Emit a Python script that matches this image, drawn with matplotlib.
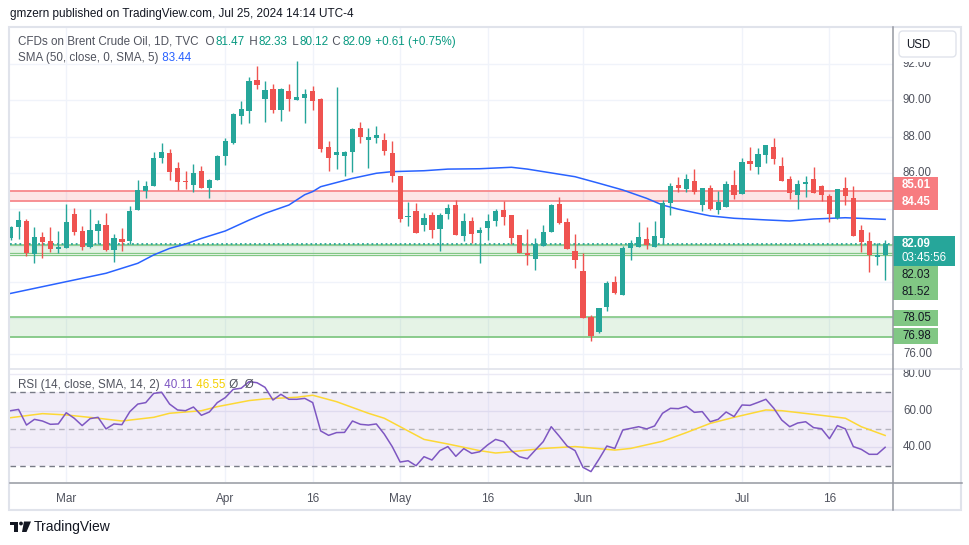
import numpy as np
import pandas as pd
import matplotlib
matplotlib.use("Agg")
import matplotlib.pyplot as plt
from matplotlib.patches import Rectangle, FancyBboxPatch, Polygon, Circle

plt.rcParams['font.family'] = ['Liberation Sans', 'DejaVu Sans']

# ---------------- data ----------------
dates = pd.bdate_range('2024-02-21', '2024-07-25')
dates = dates[dates != pd.Timestamp('2024-03-29')]

opens = [82.43, 83.04, 83.37, 81.55, 82.47, 82.25, 81.79, 81.88, 83.74, 82.80,
         81.94, 82.82, 83.13, 81.75, 82.36, 82.25, 83.96, 85.02, 85.30, 86.82,
         87.08, 86.27, 85.55, 85.33, 86.10, 85.19, 85.61, 86.95, 87.63, 89.15,
         89.43, 91.12, 90.09, 90.62, 89.48, 90.51, 90.03, 90.14, 90.51, 90.09,
         87.43, 87.00, 86.95, 87.17, 88.47, 87.83, 87.94, 87.81, 87.10, 85.83,
         83.59, 83.90, 83.13, 83.68, 82.93, 83.75, 84.23, 82.54, 83.35, 82.71,
         82.98, 83.37, 83.96, 83.68, 82.58, 81.61, 81.27, 81.99, 82.76, 84.29,
         83.29, 81.70, 80.59, 78.06, 77.25, 78.63, 79.97, 79.29, 81.88, 81.94,
         82.36, 81.94, 82.43, 84.36, 85.33, 85.13, 85.55, 84.23, 85.17, 83.97,
         84.14, 85.33, 84.86, 86.66, 86.34, 87.00, 87.43, 86.38, 85.66, 84.80,
         85.41, 85.66, 85.28, 84.73, 83.53, 85.17, 84.62, 82.85, 82.25, 81.38,
         81.47]
highs = [83.10, 83.92, 83.46, 83.02, 82.76, 83.00, 82.80, 84.29, 84.08, 83.06,
         84.01, 83.42, 83.79, 82.62, 82.95, 84.18, 85.61, 85.57, 87.13, 87.65,
         87.32, 86.60, 86.10, 86.49, 86.40, 85.66, 86.99, 87.92, 89.30, 89.96,
         91.28, 91.89, 91.06, 90.90, 90.70, 90.90, 92.17, 90.62, 90.79, 90.15,
         87.76, 90.73, 87.21, 88.49, 88.80, 88.49, 88.60, 88.20, 87.76, 85.83,
         84.41, 84.36, 83.79, 83.86, 83.79, 84.29, 84.51, 83.79, 83.57, 83.02,
         83.74, 84.01, 84.45, 83.68, 82.58, 82.93, 82.41, 83.13, 84.29, 84.67,
         83.52, 82.63, 81.57, 78.17, 78.54, 80.03, 80.34, 81.99, 82.32, 83.29,
         83.02, 83.35, 84.49, 85.44, 85.77, 85.94, 86.21, 85.19, 85.33, 85.00,
         85.55, 86.16, 86.82, 87.43, 87.37, 87.54, 87.92, 86.88, 85.83, 85.61,
         85.83, 86.33, 85.33, 84.84, 85.11, 85.77, 85.28, 83.15, 82.74, 82.16,
         82.33]
lows = [82.30, 82.38, 81.44, 81.05, 81.29, 81.62, 81.57, 81.84, 82.58, 81.75,
        81.88, 82.08, 81.72, 81.11, 81.70, 82.06, 83.96, 84.64, 85.30, 86.53,
        85.61, 85.06, 85.11, 84.97, 85.19, 84.64, 85.61, 86.44, 87.59, 88.69,
        88.77, 90.64, 88.82, 89.32, 88.88, 89.43, 90.03, 88.77, 89.48, 87.17,
        86.12, 86.23, 85.85, 86.07, 87.67, 86.29, 87.67, 86.99, 85.52, 83.31,
        83.07, 82.71, 82.82, 82.43, 81.72, 83.48, 82.58, 82.27, 82.16, 81.05,
        82.32, 83.09, 83.13, 82.10, 81.61, 80.94, 80.67, 81.99, 82.76, 83.18,
        81.83, 80.78, 78.02, 76.76, 77.20, 78.41, 79.35, 79.29, 81.22, 81.94,
        81.83, 81.94, 82.16, 83.70, 84.97, 84.97, 84.84, 83.92, 83.97, 83.75,
        84.14, 84.58, 84.86, 86.16, 85.96, 86.56, 86.51, 85.57, 84.58, 84.03,
        84.69, 84.91, 84.47, 83.31, 83.48, 84.25, 82.54, 81.66, 80.56, 80.94,
        80.12]
closes = [83.04, 83.41, 81.57, 82.47, 82.21, 81.79, 81.92, 83.31, 82.76, 81.94,
          82.85, 83.17, 81.75, 82.41, 82.21, 83.90, 85.06, 85.28, 86.82, 87.13,
          86.07, 85.52, 85.50, 85.99, 85.19, 85.61, 86.93, 87.76, 89.25, 89.52,
          91.06, 90.86, 90.57, 89.48, 90.62, 90.09, 90.18, 90.35, 89.98, 87.34,
          86.84, 87.15, 87.15, 88.42, 88.00, 87.98, 88.09, 87.22, 85.85, 83.48,
          83.63, 82.71, 83.52, 82.87, 83.68, 84.07, 82.58, 83.35, 82.63, 82.85,
          83.35, 83.90, 83.59, 82.43, 81.61, 81.46, 82.08, 82.74, 84.23, 83.26,
          81.83, 81.22, 78.02, 77.03, 78.54, 79.92, 79.40, 81.88, 82.16, 82.47,
          82.05, 82.52, 84.34, 85.28, 85.19, 85.66, 84.95, 85.15, 84.03, 84.41,
          85.39, 84.80, 86.60, 86.49, 87.04, 87.54, 86.78, 85.57, 84.91, 85.39,
          85.50, 84.91, 84.80, 83.75, 85.11, 84.75, 82.54, 82.21, 81.49, 81.48,
          82.09]

sma_idx = [0, 4, 8, 12, 16, 18, 20, 22, 24, 27, 30, 32, 35, 37, 38, 39, 43, 46, 48,
           52, 55, 59, 63, 65, 67, 71, 74, 77, 80, 82, 84, 88, 91, 95, 98, 101, 105, 110]
sma_val = [79.36, 79.73, 80.10, 80.47, 81.02, 81.48, 81.84, 82.08, 82.39, 82.80,
           83.40, 83.77, 84.23, 84.80, 84.97, 85.24, 85.70, 85.98, 86.07, 86.12,
           86.21, 86.23, 86.31, 86.21, 86.07, 85.79, 85.43, 85.06, 84.60, 84.23,
           84.00, 83.63, 83.50, 83.41, 83.35, 83.46, 83.53, 83.44]

rsi = [60.0, 60.7, 52.2, 55.3, 54.4, 52.6, 52.8, 58.9, 55.9, 51.9,
       55.7, 56.4, 50.1, 52.8, 52.4, 59.5, 63.6, 64.4, 69.4, 70.0,
       63.6, 60.4, 60.0, 62.0, 57.5, 59.3, 64.4, 67.1, 71.6, 72.2,
       75.8, 75.2, 72.7, 65.8, 68.9, 66.2, 66.2, 66.7, 64.4, 49.0,
       46.6, 48.1, 48.2, 54.4, 52.6, 52.2, 52.8, 47.3, 40.5, 32.1,
       32.8, 30.1, 35.0, 33.2, 38.3, 40.5, 35.2, 39.4, 36.8, 37.7,
       41.4, 44.4, 43.2, 38.3, 35.0, 33.9, 38.6, 43.2, 51.3, 46.2,
       40.8, 38.3, 29.2, 26.9, 33.6, 40.8, 39.5, 49.5, 50.4, 51.3,
       50.1, 51.7, 58.6, 61.3, 61.1, 62.4, 59.1, 59.5, 54.0, 55.3,
       59.3, 56.8, 63.1, 62.9, 64.5, 66.2, 61.3, 54.9, 51.3, 53.3,
       54.0, 50.8, 50.2, 44.8, 51.9, 50.1, 40.5, 39.0, 36.3, 36.3,
       40.11]
rsima_idx = [0, 4, 7, 11, 14, 18, 20, 24, 26, 30, 32, 36, 38, 41, 45, 47, 49, 52,
             55, 59, 61, 63, 67, 71, 76, 78, 82, 85, 88, 91, 95, 97, 101, 105, 107, 110]
rsima_val = [56.2, 58.4, 57.7, 55.9, 54.4, 56.4, 58.6, 60.0, 62.2, 65.5, 66.4, 67.3,
             68.4, 64.9, 58.6, 55.9, 51.3, 44.4, 41.9, 38.3, 37.0, 37.7, 39.5, 40.5,
             38.6, 39.5, 43.4, 48.1, 53.1, 56.4, 60.4, 60.0, 58.0, 55.9, 51.3, 46.55]

zone_red = (84.45, 85.01)
zone_green_hi = (81.52, 82.03)
zone_green_lo = (76.98, 78.05)
last_price = closes[-1]
countdown = "03:45:56"

tick_dates = ['2024-03-01', '2024-04-01', '2024-04-16', '2024-05-01',
              '2024-05-16', '2024-06-03', '2024-07-01', '2024-07-16']
tick_labels = ['Mar', 'Apr', '16', 'May', '16', 'Jun', 'Jul', '16']
price_ticks = [76, 78, 80, 82, 84, 86, 88, 90, 92]
rsi_ticks = [40, 60, 80]

# ---------------- styles ----------------
UP, DOWN = '#26a69a', '#ef5350'
GRID = '#f0f3fa'
TXT = '#131722'
GRAY = '#50535e'
W, H = 970, 545

fig = plt.figure(figsize=(W / 100, H / 100), dpi=100)
fig.patch.set_facecolor('white')


def rect(x0, y0, x1, y1):
    return [x0 / W, 1 - y1 / H, (x1 - x0) / W, (y1 - y0) / H]


ax_p = fig.add_axes(rect(10, 27, 893, 368))
ax_r = fig.add_axes(rect(10, 369, 893, 482))
ax_ra = fig.add_axes(rect(893, 369, 962, 482))
over = fig.add_axes([0, 0, 1, 1], zorder=10)
over.set_xlim(0, W)
over.set_ylim(H, 0)
over.axis('off')
over.patch.set_visible(False)

n = len(dates)
assert n == len(opens)
x = np.arange(n)
xl = (-0.075, 110.99)

tick_idx = [int(np.where(dates == pd.Timestamp(d))[0][0]) for d in tick_dates]

for ax in (ax_p, ax_r, ax_ra):
    for s in ax.spines.values():
        s.set_visible(False)
    ax.set_xticks([])
    ax.set_yticks([])

# ---------------- price pane ----------------
ax_p.set_xlim(*xl)
ax_p.set_ylim(75.25, 94.04)
for p in price_ticks:
    ax_p.axhline(p, color=GRID, lw=1, zorder=0)
for t in tick_idx:
    ax_p.axvline(t, color=GRID, lw=1, zorder=0)

ax_p.axhspan(*zone_red, color='#f23645', alpha=0.13, lw=0, zorder=1)
for v in zone_red:
    ax_p.axhline(v, color='#f7888c', lw=1.3, zorder=1.5)
for z in (zone_green_hi, zone_green_lo):
    ax_p.axhspan(*z, color='#4caf50', alpha=0.14, lw=0, zorder=1)
    ax_p.axhline(z[1], color='#81c784', lw=1.2, zorder=1.5)
ax_p.axhline(zone_green_lo[0], color='#81c784', lw=1.3, zorder=1.5)
ax_p.axhline(zone_green_hi[0] + 0.055, color='#81c784', lw=0.9, zorder=1.5)
ax_p.axhline(zone_green_hi[0] - 0.06, color='#81c784', lw=0.9, zorder=1.5)
ax_p.axhline(last_price, color=UP, lw=1.3, ls=(0, (1, 1.6)), zorder=2)

ax_p.plot(sma_idx, sma_val, color='#2962ff', lw=1.1, zorder=3)

o = np.array(opens); c = np.array(closes)
cols = [UP if cc >= oo else DOWN for oo, cc in zip(o, c)]
ax_p.vlines(x, lows, highs, colors=cols, lw=1.0, zorder=4)
bot = np.minimum(o, c)
hgt = np.maximum(np.abs(c - o), 0.06)
ax_p.bar(x, hgt, bottom=bot, width=0.66, color=cols, lw=0, zorder=5)

# ---------------- RSI pane ----------------
ax_r.set_xlim(*xl)
ax_r.set_ylim(21.25, 82.66)
for t in tick_idx:
    ax_r.axvline(t, color=GRID, lw=1, zorder=0)
for r in rsi_ticks:
    ax_r.axhline(r, color='#ebeaf5', lw=1, zorder=0)
ax_r.axhspan(30, 70, color='#7e57c2', alpha=0.1, lw=0, zorder=1)
ax_r.axhline(70, color='#787b86', lw=1, ls=(0, (4, 3)), zorder=2)
ax_r.axhline(30, color='#787b86', lw=1, ls=(0, (4, 3)), zorder=2)
ax_r.axhline(50, color='#787b86', lw=1, ls=(0, (4, 3)), alpha=0.5, zorder=2)
ax_r.plot(rsima_idx, rsima_val, color='#fdd835', lw=1.1, zorder=3)
ax_r.plot(x, rsi, color='#7e57c2', lw=1.1, zorder=4)
ax_r.set_xticks(tick_idx)
ax_r.set_xticklabels(tick_labels, fontsize=8.5, color=GRAY)
ax_r.tick_params(axis='x', length=0, pad=8)

# RSI axis labels
ax_ra.set_xlim(0, 69)
ax_ra.set_ylim(21.25, 82.66)
for r in rsi_ticks:
    ax_ra.text(10, r, f"{r:.2f}", fontsize=8.3, color=GRAY, va='center', ha='left', clip_on=True)


# ---------------- price axis labels (pixel overlay) ----------------
def py(p):
    return H - ax_p.transData.transform((0, p))[1]


lab_h = 16.6
axis_labels = [
    (zone_red[1], -6.0, '#f77c80', 'white', 'bold'),
    (zone_red[0], 0.7, '#f77c80', 'white', 'bold'),
    (zone_green_hi[1], 29.6, '#81c784', TXT, 'normal'),
    (zone_green_hi[0], 37.3, '#81c784', TXT, 'normal'),
    (zone_green_lo[1], 0.8, '#81c784', TXT, 'normal'),
    (zone_green_lo[0], -0.6, '#81c784', TXT, 'normal'),
]
yl = py(last_price)
boxes = [(py(v) + off - lab_h / 2, py(v) + off + lab_h / 2) for v, off, *_ in axis_labels]
boxes.append((yl - 8.3, yl + 22.4))

for p in price_ticks:
    yp = py(p)
    if any(b0 - 3 < yp < b1 + 3 for b0, b1 in boxes):
        continue
    over.text(903, yp, f"{p:.2f}", fontsize=8.3, color=GRAY, va='center', ha='left', zorder=1)

# covering area for USD box
over.add_patch(Rectangle((894, 27), 67, 34.5, facecolor='white', edgecolor='none', zorder=2))
over.add_patch(FancyBboxPatch((899, 31), 57, 26, boxstyle='round,pad=0,rounding_size=4',
                              facecolor='white', edgecolor='#e0e3eb', lw=1, zorder=3))
over.text(906, 44.5, 'USD', fontsize=8.3, color=TXT, va='center', ha='left', zorder=4)

for val, off, bg, fg, wt in axis_labels:
    yc = py(val) + off
    over.add_patch(Rectangle((893, yc - lab_h / 2), 45, lab_h, facecolor=bg, edgecolor='none', zorder=5))
    over.text(902, yc, f"{val:.2f}", fontsize=8.3, color=fg, fontweight=wt,
              va='center', ha='left', zorder=6)

over.add_patch(Rectangle((893, yl - 8.3), 62, 30.7, facecolor=UP, edgecolor='none', zorder=5))
over.text(902, yl, f"{last_price:.2f}", fontsize=8.3, color='white', fontweight='bold',
          va='center', ha='left', zorder=6)
over.text(902, yl + 14.3, countdown, fontsize=8.3, color='white', va='center', ha='left', zorder=6)

# ---------------- frame lines ----------------
over.add_patch(Rectangle((9.5, 26.5), 952, 483.5, facecolor='none', edgecolor='#e0e3eb', lw=1.5, zorder=7))
over.plot([10, 962], [368.5, 368.5], color='#e0e3eb', lw=1.2, zorder=7)
over.plot([10, 962], [482.5, 482.5], color='#9598a1', lw=1.1, zorder=7)
over.plot([893.5, 893.5], [27, 510], color='#9598a1', lw=1.1, zorder=7)


# ---------------- legends ----------------
def chain(x0, y0, pieces, fs=8.4):
    t = over.text(x0, y0, pieces[0][0], color=pieces[0][1], fontsize=fs, va='center', ha='left', zorder=8)
    for s, col in pieces[1:]:
        t = over.annotate(s, xy=(1, 0), xycoords=t, xytext=(0.7, 0), textcoords='offset points',
                          color=col, fontsize=fs, va='bottom', ha='left', annotation_clip=False, zorder=8)
    return t


over.text(10, 14, "gmzern published on TradingView.com, Jul 25, 2024 14:14 UTC-4",
          fontsize=8.5, color=TXT, va='center', ha='left')

chg = closes[-1] - closes[-2]
pct = chg / closes[-2] * 100
VAL = '#089981'
chain(18, 42, [("CFDs on Brent Crude Oil, 1D, TVC", GRAY),
               ("  O", GRAY), (f"{opens[-1]:.2f}", VAL),
               (" H", GRAY), (f"{highs[-1]:.2f}", VAL),
               (" L", GRAY), (f"{lows[-1]:.2f}", VAL),
               (" C", GRAY), (f"{closes[-1]:.2f}", VAL),
               (f" {chg:+.2f} ({pct:+.2f}%)", VAL)])
chain(18, 58, [("SMA (50, close, 0, SMA, 5)", GRAY), (f" {sma_val[-1]:.2f}", '#2962ff')])
chain(18, 385, [("RSI (14, close, SMA, 14, 2)", GRAY), (f" {rsi[-1]:.2f}", '#7e57c2'),
                (f" {rsima_val[-1]:.2f}", '#f5d000'), (" Ø  Ø", GRAY)])

# ---------------- TradingView logo ----------------
over.add_patch(Polygon([(10, 521.5), (18, 521.5), (18, 532), (14.5, 532), (14.5, 525), (10, 525)],
                       closed=True, facecolor=TXT, edgecolor='none'))
over.add_patch(Circle((21, 523.5), 1.9, facecolor=TXT, edgecolor='none'))
over.add_patch(Polygon([(24, 521.5), (31, 521.5), (26.5, 532), (22, 532)],
                       closed=True, facecolor=TXT, edgecolor='none'))
over.text(34, 527, "TradingView", fontsize=10, color=TXT, va='center', ha='left')

fig.savefig('out.png', dpi=100)
